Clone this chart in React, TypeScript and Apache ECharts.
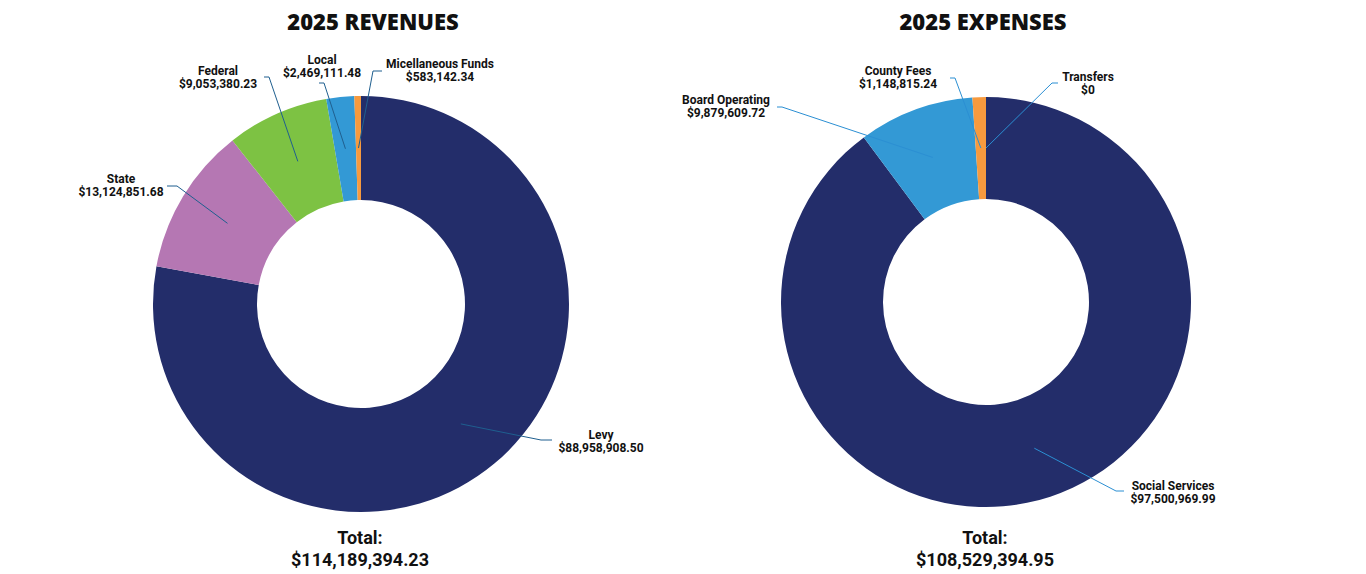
import React, { useEffect, useRef } from "react";
import * as echarts from "echarts";

// ---- data ----
const revenueNames = ["Levy", "State", "Federal", "Local", "Micellaneous Funds"];
const revenueValues = [88958908.5, 13124851.68, 9053380.23, 2469111.48, 583142.34];
const expenseNames = ["Social Services", "Board Operating", "County Fees", "Transfers"];
const expenseValues = [97500969.99, 9879609.72, 1148815.24, 0];
const revenueTitle = "2025 REVENUES";
const expenseTitle = "2025 EXPENSES";

// ---- styles ----
const revenueColors = ["#232d6a", "#b577b3", "#7dc243", "#3399d5", "#f79a3e"];
const expenseColors = ["#232d6a", "#3399d5", "#f79a3e", "#f79a3e"];

// ---- label layout (label centre, line elbow, line end) ----
const revenueLabelPos = [
  { x: 601, y: 441, elbow: [541, 440], end: [552, 440] },
  { x: 121, y: 185, elbow: [177, 186], end: [167, 186] },
  { x: 218, y: 77, elbow: [269, 77], end: [264, 77] },
  { x: 322, y: 66, elbow: [324, 83], end: [319, 83] },
  { x: 440, y: 70, elbow: [373, 71], end: [382, 71] },
];
const expenseLabelPos = [
  { x: 1173, y: 492, elbow: [1116, 491], end: [1124, 491] },
  { x: 726, y: 106, elbow: [782, 107], end: [777, 107] },
  { x: 898, y: 77, elbow: [955, 78], end: [950, 78] },
  { x: 1088, y: 83, elbow: [1052, 83], end: [1058, 83] },
];

const fmt = (v: number) =>
  v === 0
    ? "$0"
    : "$" + v.toLocaleString("en-US", { minimumFractionDigits: 2, maximumFractionDigits: 2 });

const sum = (a: number[]) => Math.round(a.reduce((s, v) => s + v, 0) * 100) / 100;

const FONT = "Roboto, 'Noto Sans', sans-serif";
const TITLE_FONT = "'Open Sans', Roboto, sans-serif";

function makeSeries(
  names: string[],
  values: number[],
  colors: string[],
  center: [number, number],
  inner: number,
  outer: number,
  pos: any[],
  lineColor: string
) {
  const data = names.map((n, i) => ({ name: n, value: values[i], itemStyle: { color: colors[i] } }));
  const mid = (inner + outer) / 2;
  return [
    {
      type: "pie",
      center,
      radius: [inner, outer],
      startAngle: 90,
      clockwise: true,
      stillShowZeroSum: true,
      silent: true,
      label: { show: false },
      labelLine: { show: false },
      itemStyle: { borderWidth: 0 },
      data,
    },
    {
      type: "pie",
      center,
      radius: [0, mid],
      startAngle: 90,
      clockwise: true,
      silent: true,
      avoidLabelOverlap: false,
      z: 5,
      itemStyle: { color: "rgba(0,0,0,0)", borderWidth: 0 },
      label: {
        show: true,
        position: "outside",
        formatter: (p: any) => `${p.name}\n${fmt(p.value)}`,
        color: "#111",
        fontFamily: FONT,
        fontWeight: "bold",
        fontSize: 12,
        lineHeight: 13,
        align: "center",
      },
      labelLine: {
        show: true,
        length: 10,
        length2: 10,
        lineStyle: { color: lineColor, width: 1 },
      },
      labelLayout: (params: any) => {
        const p = pos[params.dataIndex];
        const a = params.labelLinePoints ? params.labelLinePoints[0] : [p.elbow[0], p.elbow[1]];
        return {
          x: p.x,
          y: p.y,
          align: "center",
          verticalAlign: "middle",
          labelLinePoints: [a, p.elbow, p.end],
        };
      },
      data: names.map((n, i) => ({ name: n, value: values[i] })),
    },
  ];
}

export default function App() {
  const ref = useRef<HTMLDivElement>(null);
  useEffect(() => {
    if (!ref.current) return;
    const chart = echarts.init(ref.current, undefined, { renderer: "svg" });
    const totalStyle = {
      fill: "#111",
      fontFamily: FONT,
      fontWeight: "bold",
      fontSize: 18,
      lineHeight: 22,
      align: "center",
      verticalAlign: "middle",
    };
    const titleStyle = { fontFamily: TITLE_FONT, fontWeight: 800, fontSize: 22, color: "#111" };
    chart.setOption({
      animation: false,
      backgroundColor: "#ffffff",
      title: [
        { text: revenueTitle, left: 368, top: 5, textAlign: "center", textStyle: titleStyle },
        { text: expenseTitle, left: 978, top: 5, textAlign: "center", textStyle: titleStyle },
      ],
      graphic: [
        {
          type: "text",
          x: 360,
          y: 548,
          style: { ...totalStyle, text: `Total:\n${fmt(sum(revenueValues))}` },
        },
        {
          type: "text",
          x: 985,
          y: 548,
          style: { ...totalStyle, text: `Total:\n${fmt(sum(expenseValues))}` },
        },
      ],
      series: [
        ...makeSeries(revenueNames, revenueValues, revenueColors, [361, 304], 104, 208, revenueLabelPos, "#1f5f8f"),
        ...makeSeries(expenseNames, expenseValues, expenseColors, [986, 302], 103, 205, expenseLabelPos, "#2b8fd3"),
      ],
    });
    return () => chart.dispose();
  }, []);
  return (
    <div
      ref={ref}
      style={{ position: "fixed", left: 0, top: 0, width: 1366, height: 574, background: "#fff" }}
    />
  );
}
